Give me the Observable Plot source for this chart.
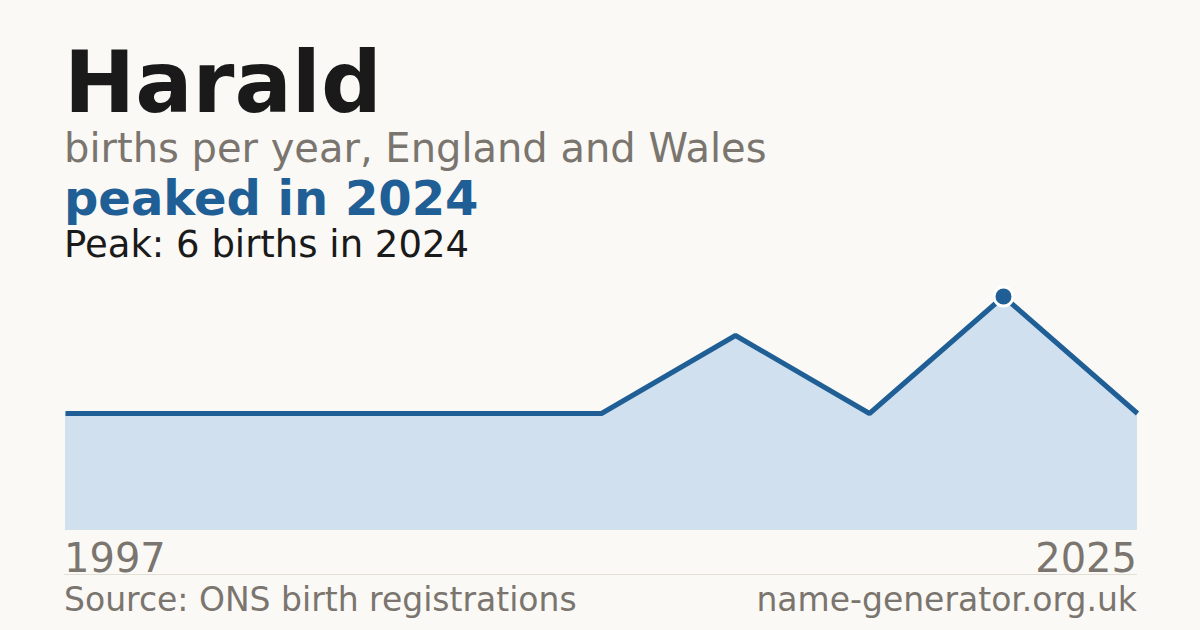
<!DOCTYPE html>
<html><head><meta charset="utf-8">
<script src="https://cdn.jsdelivr.net/npm/d3@7"></script>
<script src="https://cdn.jsdelivr.net/npm/@observablehq/plot@0.6"></script>
<style>
html,body{margin:0;padding:0;background:#faf9f5;}
#page{position:relative;width:1200px;height:630px;overflow:hidden;font-family:"DejaVu Sans",sans-serif;background:#faf9f5;}
.t{position:absolute;white-space:nowrap;line-height:1;}
#chart{position:absolute;left:0;top:280px;}
#sep{position:absolute;left:64px;width:1073px;top:574px;height:1px;background:#e2dfd7;}
</style></head>
<body><div id="page">
<div class="t" id="title" style="left:64px;top:40px;font-size:85px;font-weight:bold;color:#1a1a1a;">Harald</div>
<div class="t" id="sub" style="left:64px;top:128px;font-size:40px;color:#7a756e;">births per year, England and Wales</div>
<div class="t" id="hl" style="left:64px;top:177px;font-size:48px;line-height:0.9;font-weight:bold;color:#1f5f96;">peaked in 2024</div>
<div class="t" id="peak" style="left:64px;top:226px;font-size:37px;color:#1a1a1a;">Peak: 6 births in 2024</div>
<div id="chart"></div>
<div class="t" id="y0" style="left:64px;top:538px;font-size:40px;color:#7a756e;"></div>
<div class="t" id="y1" style="right:63px;top:538px;font-size:40px;color:#7a756e;"></div>
<div id="sep"></div>
<div class="t" style="left:64px;top:583px;font-size:33px;color:#7a756e;">Source: ONS birth registrations</div>
<div class="t" style="right:63px;top:583px;font-size:33px;color:#7a756e;">name-generator.org.uk</div>
</div>
<script>
const years = ["1997","2005","2011","2017","2021","2022","2023","2024","2025"];
const births = [3,3,3,3,3,5,3,6,3];
const peakYear = "2024";
const peakValue = 6;

const data = years.map((y,i)=>({year:y, births:births[i]}));
const peak = data.filter(d=>d.year===peakYear);

const chart = Plot.plot({
  width:1200, height:250,
  marginLeft:64, marginRight:63, marginTop:16, marginBottom:0,
  style:{background:"transparent", overflow:"visible"},
  x:{type:"point", domain:years, padding:0, axis:null},
  y:{domain:[0,peakValue], axis:null},
  marks:[
    Plot.areaY(data,{x:"year", y:"births", fill:"#d0e0ef"}),
    Plot.lineY(data,{x:"year", y:"births", stroke:"#1f5f96", strokeWidth:5, strokeLinejoin:"miter", strokeLinecap:"butt"}),
    Plot.dot(peak,{x:"year", y:"births", r:9.5, fill:"#1f5f96", stroke:"#ffffff", strokeWidth:3})
  ]
});
document.getElementById("chart").appendChild(chart);
document.getElementById("y0").textContent = years[0];
document.getElementById("y1").textContent = years[years.length-1];
</script>
</body></html>
